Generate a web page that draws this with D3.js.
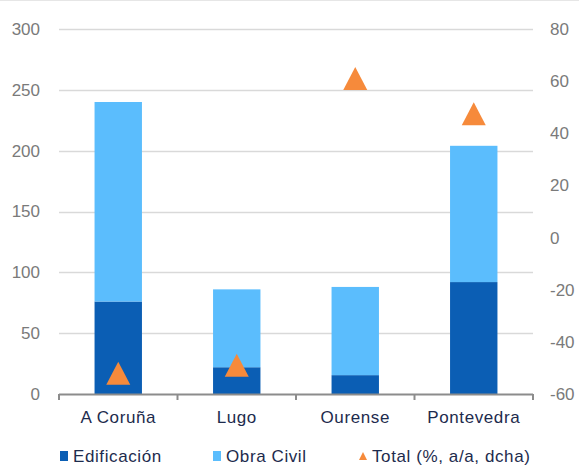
<!DOCTYPE html>
<html>
<head>
<meta charset="utf-8">
<script src="https://cdn.jsdelivr.net/npm/d3@7"></script>
<style>
  body { margin: 0; background: #fff; }
  svg { display: block; font-family: "Liberation Sans", Arial, sans-serif; }
</style>
</head>
<body>
<svg id="chart" width="579" height="465"></svg>
<script>
// Provinces on the x axis
const categories = ["A Coruña", "Lugo", "Ourense", "Pontevedra"];
// Stacked bar values (left axis)
const edificacion = [76, 22, 15.5, 92];
const obraCivil = [164, 64, 72.5, 112];
// Year-on-year change of the total, % (right axis)
const totalPct = [-52, -49, 61, 47.5];
// Axis ticks
const leftTicks = [0, 50, 100, 150, 200, 250, 300];
const rightTicks = [-60, -40, -20, 0, 20, 40, 60, 80];
const seriesNames = ["Edificación", "Obra Civil", "Total (%, a/a, dcha)"];

const colors = { edif: "#0B5EB4", civil: "#5BBDFD", total: "#F68A3B" };

const svg = d3.select("#chart");
const m = { left: 59, right: 533, top: 29, bottom: 394 };

const x = d3.scaleBand().domain(categories).range([m.left, m.right]).paddingInner(0.6).paddingOuter(0.3);
const xOuter = d3.scaleBand().domain(categories).range([m.left, m.right]);
const yL = d3.scaleLinear().domain([0, 300]).range([m.bottom, m.top]);
const yR = d3.scaleLinear().domain([-60, 80]).range([m.bottom, m.top]);

// triangle path centred on the origin
const triPath = (w, h) => `M0,${-h / 2}L${w / 2},${h / 2}L${-w / 2},${h / 2}Z`;

// faint frame line along the top
svg.append("line").attr("x1", 0).attr("x2", 579).attr("y1", 0.5).attr("y2", 0.5)
  .attr("stroke", "#e6e6e6");

// horizontal gridlines
svg.append("g").selectAll("line").data(leftTicks.filter(d => d > 0)).join("line")
  .attr("x1", m.left).attr("x2", m.right)
  .attr("y1", d => Math.round(yL(d)) + 0.5).attr("y2", d => Math.round(yL(d)) + 0.5)
  .attr("stroke", "#d9d9d9").attr("stroke-width", 1.5);

// left axis labels
const leftAxis = d3.axisLeft(yL).tickValues(leftTicks).tickSize(0).tickPadding(19)
  .tickFormat(d => String(d));
svg.append("g").attr("transform", `translate(${m.left},0)`).call(leftAxis)
  .call(g => g.select(".domain").remove())
  .call(g => g.selectAll("text").attr("fill", "#7a7a7a").style("font-size", "17px")
    .style("font-family", "Liberation Sans, Arial, sans-serif"));

// right axis labels (plain hyphen for negatives)
const rightAxis = d3.axisRight(yR).tickValues(rightTicks).tickSize(0).tickPadding(17)
  .tickFormat(d => String(d));
svg.append("g").attr("transform", `translate(${m.right},0)`).call(rightAxis)
  .call(g => g.select(".domain").remove())
  .call(g => g.selectAll("text").attr("fill", "#7a7a7a").style("font-size", "17px")
    .style("font-family", "Liberation Sans, Arial, sans-serif"));

// stacked bars
const rows = categories.map((c, i) => ({ cat: c, edif: edificacion[i], civil: obraCivil[i] }));
const stacked = d3.stack().keys(["edif", "civil"])(rows);
svg.append("g").selectAll("g").data(stacked).join("g")
  .attr("fill", d => colors[d.key])
  .selectAll("rect").data(d => d).join("rect")
  .attr("x", d => x(d.data.cat))
  .attr("width", x.bandwidth())
  .attr("y", d => yL(d[1]))
  .attr("height", d => yL(d[0]) - yL(d[1]));

// x axis baseline with category boundary ticks
const xAxisG = svg.append("g");
xAxisG.append("line").attr("x1", m.left).attr("x2", m.right)
  .attr("y1", m.bottom + 0.5).attr("y2", m.bottom + 0.5)
  .attr("stroke", "#8c8c8c").attr("stroke-width", 2);
const boundaries = categories.map(c => xOuter(c)).concat([m.right]);
xAxisG.selectAll("line.tk").data(boundaries).join("line").attr("class", "tk")
  .attr("x1", d => d).attr("x2", d => d)
  .attr("y1", m.bottom).attr("y2", m.bottom + 6)
  .attr("stroke", "#8c8c8c").attr("stroke-width", 2);
xAxisG.selectAll("text").data(categories).join("text")
  .attr("x", d => xOuter(d) + xOuter.bandwidth() / 2)
  .attr("y", 423)
  .attr("text-anchor", "middle")
  .attr("fill", "#1d2b4d")
  .style("font-size", "17px").style("letter-spacing", "0.6px")
  .text(d => d);

// triangle markers for the total
svg.append("g").selectAll("path").data(totalPct).join("path")
  .attr("d", triPath(24, 23))
  .attr("transform", (d, i) => `translate(${xOuter(categories[i]) + xOuter.bandwidth() / 2},${yR(d)})`)
  .attr("fill", colors.total);

// legend
const legend = svg.append("g");
const legendItems = [
  { name: seriesNames[0], x: 60, kind: "rect", color: colors.edif },
  { name: seriesNames[1], x: 213, kind: "rect", color: colors.civil },
  { name: seriesNames[2], x: 359, kind: "tri", color: colors.total }
];
legendItems.forEach(it => {
  if (it.kind === "rect") {
    legend.append("rect").attr("x", it.x).attr("y", 451).attr("width", 8).attr("height", 10).attr("fill", it.color);
  } else {
    legend.append("path").attr("d", triPath(8, 8))
      .attr("transform", `translate(${it.x + 4},456)`).attr("fill", it.color);
  }
  legend.append("text").attr("x", it.x + 13).attr("y", 462)
    .attr("fill", "#1d2b4d").style("font-size", "17px").style("letter-spacing", "0.6px")
    .text(it.name);
});
</script>
</body>
</html>
